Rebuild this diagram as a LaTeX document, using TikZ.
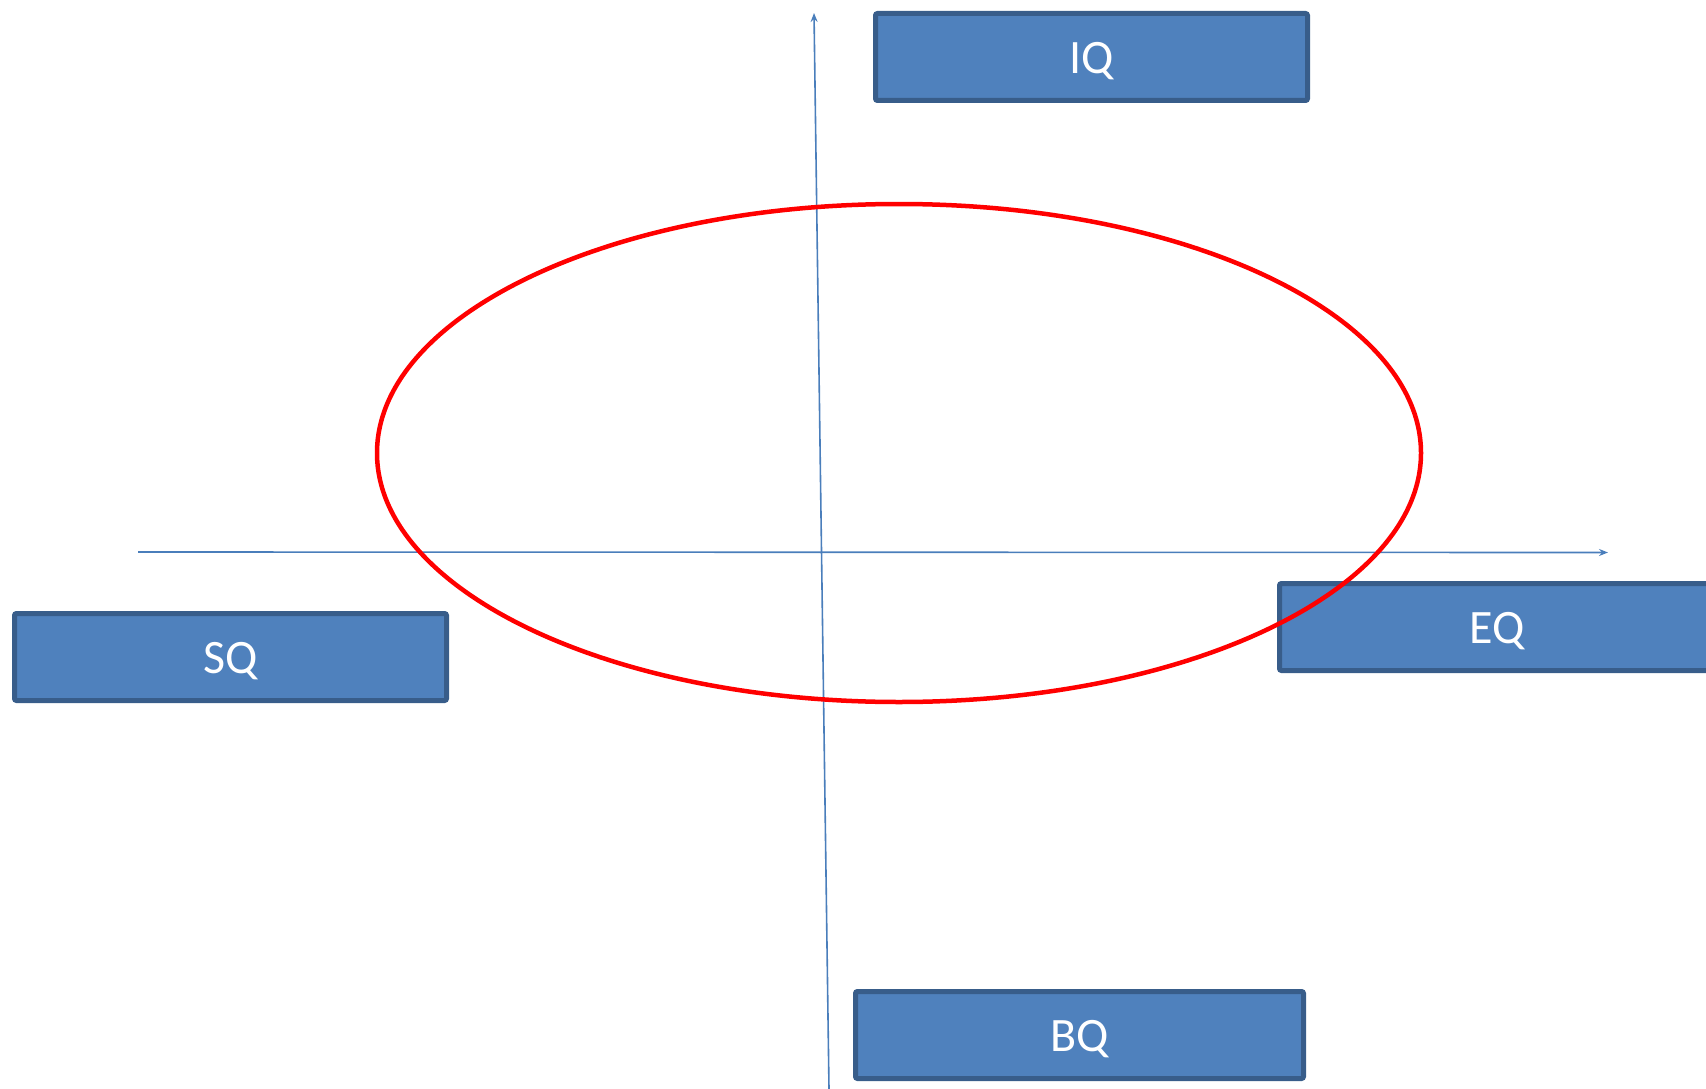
\documentclass[tikz,border=0pt]{standalone}
\usepackage{fontspec}
\setmainfont{Carlito}
\usetikzlibrary{arrows.meta}
\definecolor{boxfill}{HTML}{4F81BD}
\definecolor{boxline}{HTML}{385D8A}
\definecolor{axiscol}{HTML}{4A7EBB}
\tikzset{
  qbox/.style={draw=boxline, fill=boxfill, line width=5pt, rounded corners=2pt,
    text=white, font=\fontsize{48}{54}\selectfont, inner sep=0pt,
    text height=41pt, text depth=8pt,
    minimum height=87pt},
  axisline/.style={draw=axiscol, line width=1.6pt,
    -{Stealth[length=9pt,width=7pt,inset=3pt]}}
}
\begin{document}
\begin{tikzpicture}[x=1pt,y=-1pt]
\useasboundingbox (0,0) rectangle (1706,1089);
% axes
\coordinate (hstart) at (138,552);
\coordinate (hend) at (1608,552.5);
\coordinate (vstart) at (829,1089);
\coordinate (vend) at (814,13);
\draw[axisline] (hstart) -- (hend);
\draw[axisline] (vstart) -- (vend);
% boxes
\node[qbox, minimum width=432pt] (IQ) at (1091.5,57) {IQ};
\node[qbox, minimum width=432pt] (SQ) at (230.5,657) {SQ};
\node[qbox, minimum width=435pt] (EQ) at (1497,627) {EQ};
\node[qbox, minimum width=448pt] (BQ) at (1079.5,1035) {BQ};
% ellipse (drawn over the boxes)
\draw[red, line width=4.5pt] (899,453) ellipse [x radius=522, y radius=249];
\end{tikzpicture}
\end{document}
